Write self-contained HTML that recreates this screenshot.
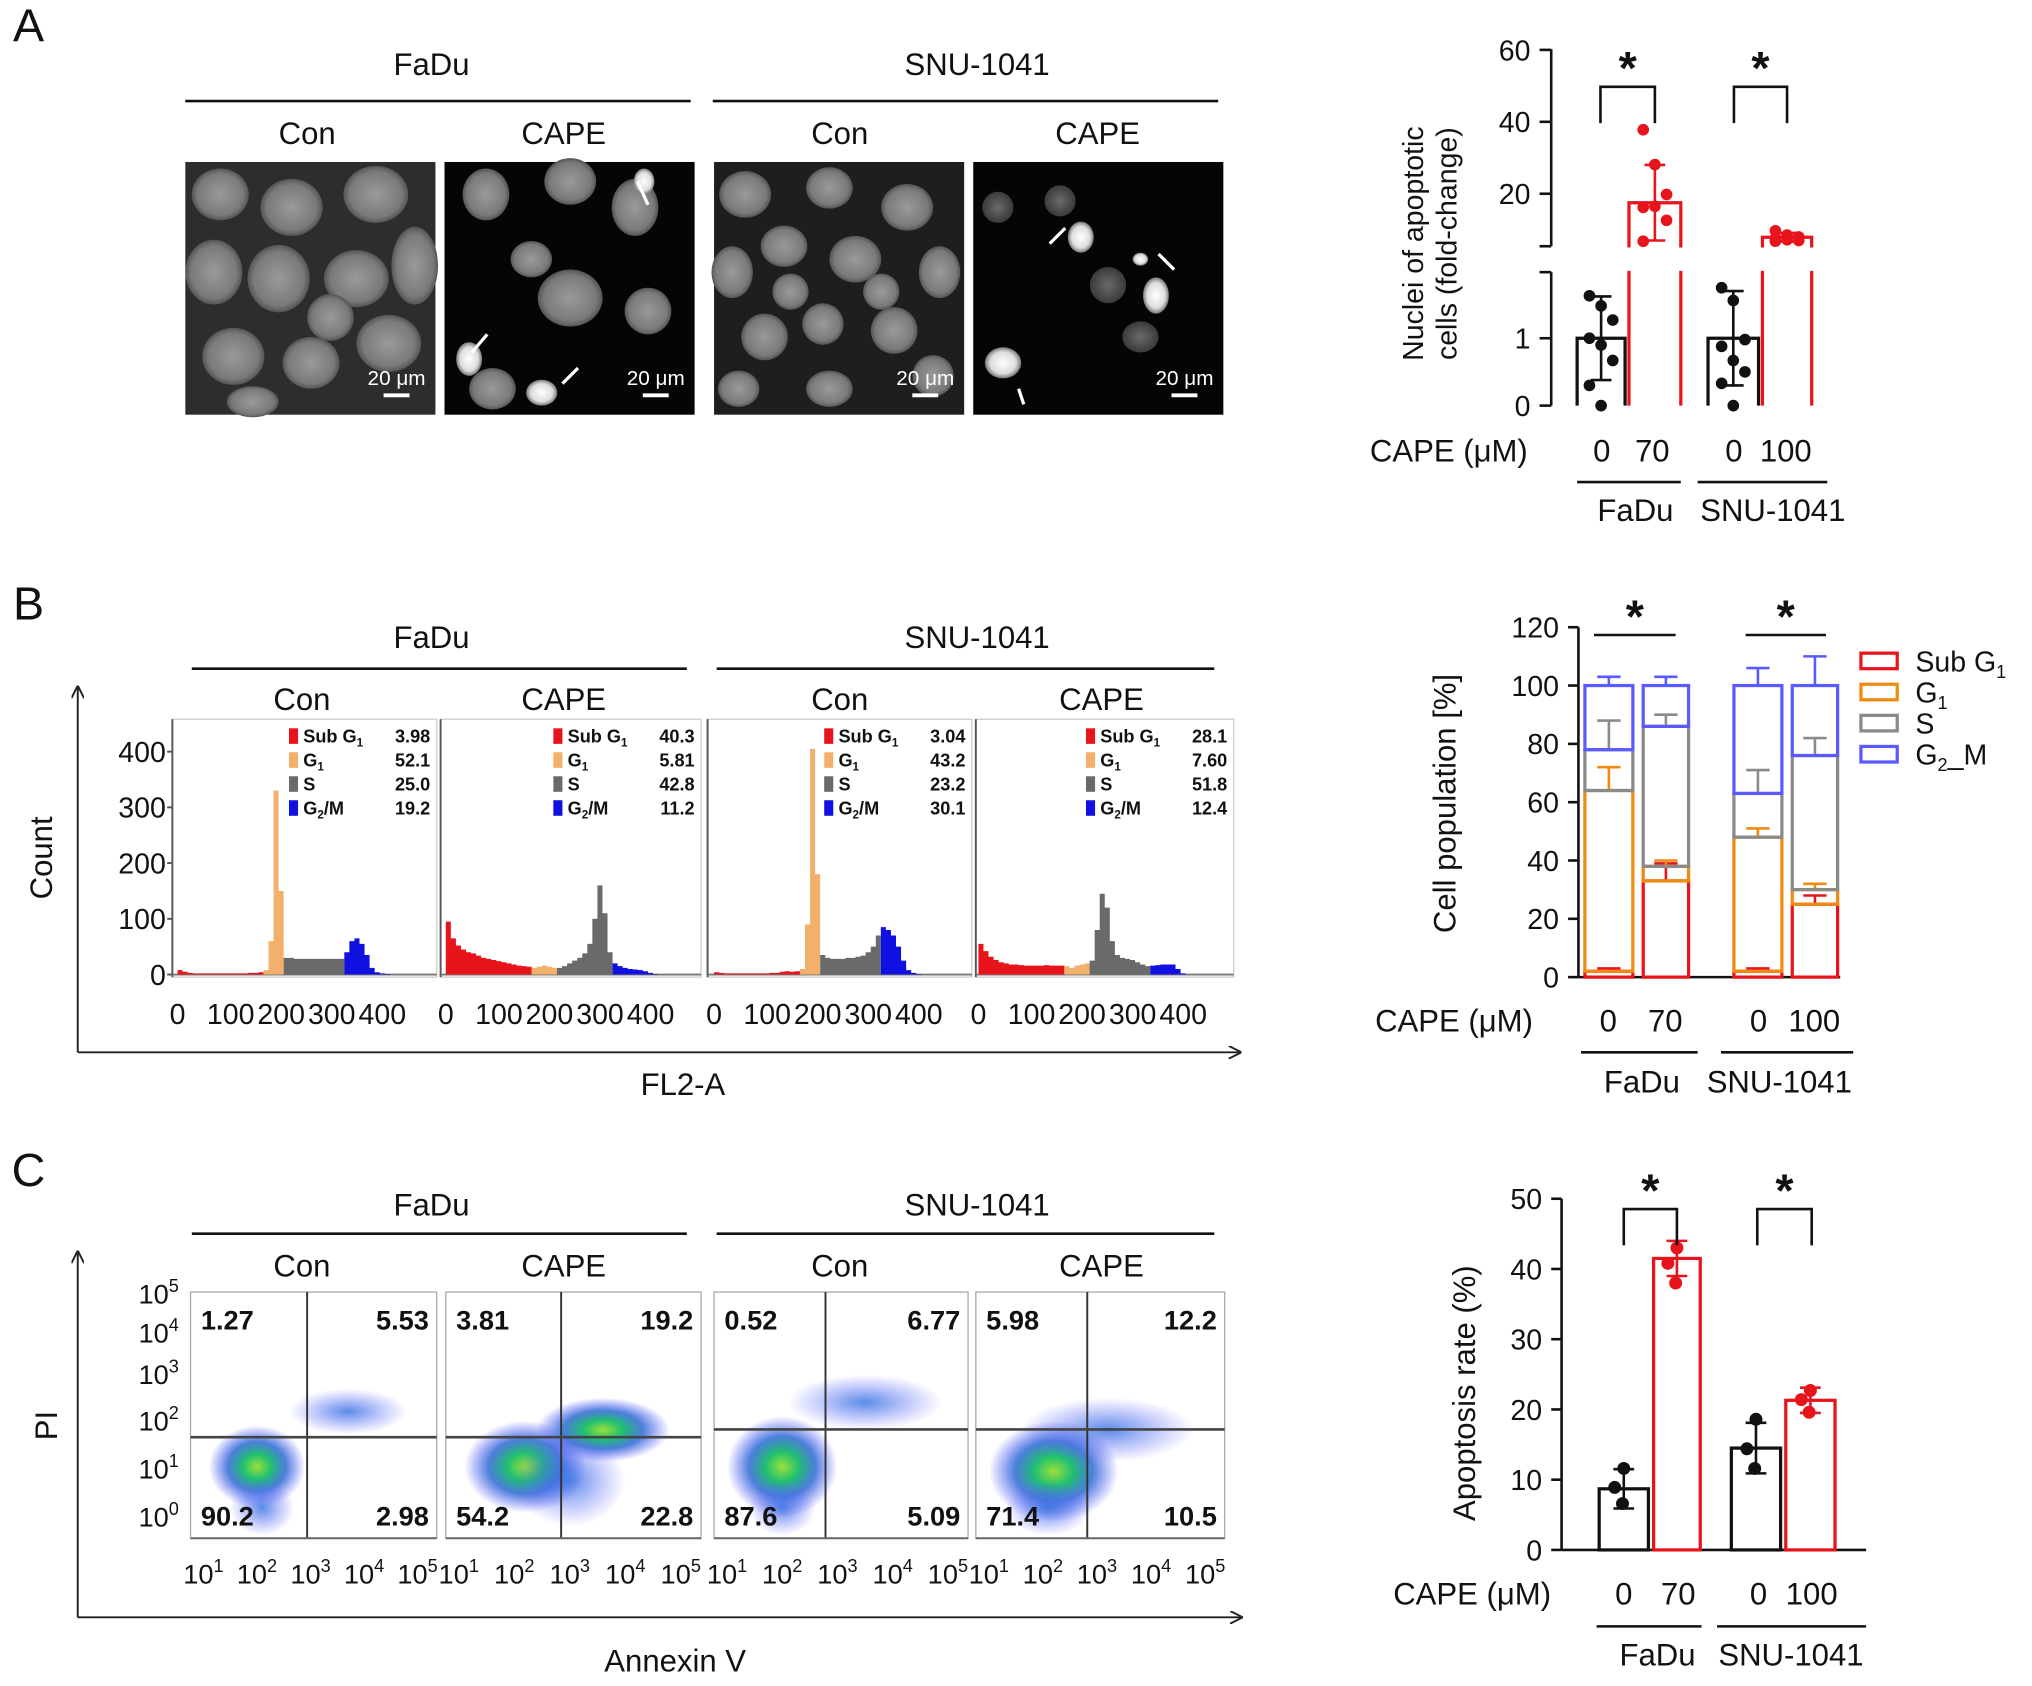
<!DOCTYPE html>
<html><head><meta charset="utf-8"><style>
html,body{margin:0;padding:0;background:#fff;}
svg{display:block;font-family:"Liberation Sans",Arial,sans-serif;}
</style></head><body>
<svg id="fig" xmlns="http://www.w3.org/2000/svg" width="2032" height="1686" viewBox="0 0 1568 1301" preserveAspectRatio="none">
<defs>
<radialGradient id="nuc" cx="50%" cy="50%" r="50%"><stop offset="0" stop-color="#9a9a9a"/><stop offset="0.8" stop-color="#7a7a7a"/><stop offset="1" stop-color="#555"/></radialGradient>
<radialGradient id="nucB" cx="50%" cy="50%" r="50%"><stop offset="0" stop-color="#fff"/><stop offset="0.7" stop-color="#ddd"/><stop offset="1" stop-color="#777"/></radialGradient>
<radialGradient id="nucD" cx="50%" cy="50%" r="50%"><stop offset="0" stop-color="#6a6a6a"/><stop offset="1" stop-color="#3a3a3a"/></radialGradient>
<radialGradient id="cloud" cx="50%" cy="50%" r="50%"><stop offset="0" stop-color="#9be03a"/><stop offset="0.3" stop-color="#20c070"/><stop offset="0.6" stop-color="#2060d0" stop-opacity="0.8"/><stop offset="1" stop-color="#4040ff" stop-opacity="0"/></radialGradient>
<radialGradient id="cloudL" cx="50%" cy="50%" r="50%"><stop offset="0" stop-color="#3070e0" stop-opacity="0.8"/><stop offset="1" stop-color="#6060ff" stop-opacity="0"/></radialGradient>
<marker id="arr" markerWidth="10" markerHeight="10" refX="9" refY="5" orient="auto" markerUnits="userSpaceOnUse"><path d="M0,0 L10,5 L0,10" fill="none" stroke="#222" stroke-width="1.5"/></marker>
</defs>
</svg>
<script>
// ---------- DATA ----------
const aGroups = ['FaDu-0','FaDu-70','SNU-0','SNU-100'];
const aMeans = [1, 17.5, 1, 7.9];
const aSD = [0.62, 10.5, 0.7, 1.2];
const aPoints = [[1.63,1.48,1.27,1.0,0.9,0.67,0.3,0],[37.8,28.1,19.8,16.2,16.5,12.6,6.8],[1.75,1.56,0.98,0.88,0.67,0.5,0.33,0],[9.7,8.5,8.0,7.6,7.2,7.0,6.8]];
const aTicksUpper = [20,40,60];
const aTicksLower = [0,1];
const bGroups = ['FaDu-0','FaDu-70','SNU-0','SNU-100'];
const bSub = [2,33,2,25];
const bG1 = [62,5,46,5];
const bS = [14,48,15,46];
const bG2 = [22,14,37,24];
const bErrSub = [1,6,1,3];
const bErrG1 = [8,2,3,2];
const bErrS = [10,4,8,6];
const bErrG2 = [3,3,6,10];
const bTicks = [0,20,40,60,80,100,120];
const cGroups = ['FaDu-0','FaDu-70','SNU-0','SNU-100'];
const cMeans = [8.7,41.5,14.5,21.3];
const cSD = [2.8,2.5,3.6,1.8];
const cPoints = [[11.6,8.9,6.6],[43,40.8,38],[18.6,14.4,11.6],[22.7,21.4,19.6]];
const cTicks = [0,10,20,30,40,50];
const hSub = ['3.98','40.3','3.04','28.1'];
const hG1 = ['52.1','5.81','43.2','7.60'];
const hS = ['25.0','42.8','23.2','51.8'];
const hG2 = ['19.2','11.2','30.1','12.4'];
const hist0 = [8,5,3,2,2,2,2,2,2,2,2,2,2,2,3,3,4,8,60,330,150,30,30,28,28,28,28,28,28,28,28,28,28,40,60,65,55,35,12,4,2,1,0,0,0];
const hist1 = [95,65,52,45,40,38,34,30,28,26,24,22,20,18,16,15,14,12,14,16,14,12,12,15,20,25,30,38,55,100,160,110,40,20,15,12,10,9,8,6,3,1,0,0,0];
const hist2 = [4,3,2,2,2,2,2,2,2,2,2,3,3,5,6,5,6,10,90,405,180,35,30,28,28,28,30,30,32,34,40,50,70,85,80,70,50,25,8,3,1,0,0,0,0];
const hist3 = [55,42,32,26,22,20,18,18,17,16,16,16,16,17,16,16,16,15,12,16,18,20,25,80,145,120,60,35,30,28,26,22,18,15,16,17,18,18,18,10,2,0,0,0,0];
const hB1 = [17,17,17,17];
const hB2 = [21,22,21,22];
const hB3 = [33,33,33,34];
const qUL = ['1.27','3.81','0.52','5.98'];
const qUR = ['5.53','19.2','6.77','12.2'];
const qLL = ['90.2','54.2','87.6','71.4'];
const qLR = ['2.98','22.8','5.09','10.5'];
const clouds = [
 [[2.0,1.5,0.9,0.9,1],[3.7,2.7,1.1,0.5,0],[2.1,0.6,0.6,0.6,0]],
 [[2.2,1.5,1.1,1.0,1],[3.6,2.3,1.2,0.7,1],[3.0,1.2,1.0,1.0,0]],
 [[2.0,1.5,1.0,1.1,1],[3.5,2.9,1.4,0.6,0],[2.0,0.6,0.6,0.6,0]],
 [[2.2,1.4,1.2,1.1,1],[3.2,2.3,1.6,0.7,0],[2.1,0.6,0.8,0.6,0]]
];

// ---------- HELPERS ----------
const NS='http://www.w3.org/2000/svg';
const svg=document.getElementById('fig');
function mk(tag,attrs,parent){const e=document.createElementNS(NS,tag);for(const k in attrs)e.setAttribute(k,attrs[k]);(parent||svg).appendChild(e);return e;}
function txt(x,y,s,size,anchor,weight,parent){const e=mk('text',{x:x,y:y,'font-size':size||22,'text-anchor':anchor||'middle','font-weight':weight||'normal',fill:'#111'},parent);e.textContent=s;return e;}
function line(x1,y1,x2,y2,w,c,parent){return mk('line',{x1:x1,y1:y1,x2:x2,y2:y2,stroke:c||'#111','stroke-width':w||2},parent);}
let e;

// ---------- PANEL LETTERS & HEADERS ----------
[['A',22,32],['B',22,478],['C',22,915]].forEach(p=>{e=txt(p[1],p[2],p[0],36,'middle');

});
const headerY=[[58,78,103],[500,516,540],[938,952,977]];
headerY.forEach((h,i)=>{
 e=txt(333,h[0],'FaDu',24);
 
 
 e=txt(754,h[0],'SNU-1041',24);
 
 
 e=line(i==0?143:148,h[1],i==0?533:530,h[1],2);
 
 
 e=line(i==0?550:553,h[1],i==0?940:937,h[1],2);
 
 
 [[i==0?237:233,'Con'],[435,'CAPE'],[648,'Con'],[i==0?847:850,'CAPE']].forEach(c=>{
  e=txt(c[0],h[2]+8,c[1],24);
  
  
 });
});

// ---------- PANEL A IMAGES ----------
const imgX=[143,343,551,751];
const nucleiCon1=[[170,150,22,20],[225,160,24,22],[290,150,25,22],[320,205,18,30],[165,210,22,25],[215,215,24,26],[275,215,25,22],[180,275,24,22],[240,280,22,20],[300,265,25,22],[195,310,20,12],[255,245,18,18]];
const nucleiCape1=[[375,150,18,20],[440,140,20,18],[490,160,18,22],[440,230,25,22],[410,200,16,14],[500,240,18,18],[380,300,18,16]];
const brightCape1=[[362,277,10,13],[418,303,12,10],[497,140,8,10]];
const nucleiCon2=[[575,150,20,18],[640,145,18,16],[700,160,20,18],[565,210,16,20],[605,190,18,16],[660,200,20,18],[725,210,16,20],[590,260,18,18],[635,250,16,16],[690,255,18,18],[570,300,16,14],[640,300,18,14],[720,290,16,16],[610,225,14,14],[680,225,14,14]];
const nucleiCape2=[[818,155,12,12],[855,220,14,14],[880,260,14,12],[770,160,12,12]];
const brightCape2=[[834,183,10,12],[892,228,10,14],[774,280,14,12],[880,200,6,5]];
imgX.forEach((x,i)=>{
 const g=mk('g',{});
 
 
 mk('rect',{x:x,y:125,width:193,height:195,fill:(i==0?'#2d2d2d':(i==2?'#1e1e1e':'#050505'))},g);
 const sets=[[nucleiCon1],[nucleiCape1,brightCape1],[nucleiCon2],[nucleiCape2,brightCape2]][i];
 sets[0].forEach(n=>mk('ellipse',{cx:n[0],cy:n[1],rx:n[2],ry:n[3],fill:(i==3?'url(#nucD)':'url(#nuc)')},g));
 if(sets[1]) sets[1].forEach(n=>mk('ellipse',{cx:n[0],cy:n[1],rx:n[2],ry:n[3],fill:'url(#nucB)'},g));
 const t=txt(x+163,297,'20 μm',16,'middle','normal',g); t.setAttribute('fill','#fff');
 mk('line',{x1:x+153,y1:305,x2:x+173,y2:305,stroke:'#fff','stroke-width':3},g);
});
[[376,258,364,272],[446,284,434,296],[492,140,500,158],[822,176,810,188],[894,196,906,208],[786,300,790,312]].forEach(a=>{
 e=mk('line',{x1:a[0],y1:a[1],x2:a[2],y2:a[3],stroke:'#fff','stroke-width':2.5});
 
 
});

// ---------- PANEL A CHART ----------
function yA(v){return v<=2?313-52*v:205-2.775*v;}
const aBarX=[1217,1257,1318,1360], aBarW=[37,40,39,38];
const aColor=['#111','#e8141c','#111','#e8141c'];
e=line(1197,38,1197,190,2);


e=line(1197,210,1197,313,2);


line(1188,190,1197,190,2);line(1188,210,1197,210,2);
aTicksUpper.forEach(v=>{line(1188,yA(v),1197,yA(v),2);
 e=txt(1181,yA(v)+8,String(v),22,'end');
 
 });
aTicksLower.forEach(v=>{line(1188,yA(v),1197,yA(v),2);
 e=txt(1181,yA(v)+8,String(v),22,'end');
 
 });
e=mk('text',{x:0,y:0,'font-size':22,'text-anchor':'middle',fill:'#111',transform:'translate(1098,188) rotate(-90)'});


e.innerHTML='<tspan x="0" dy="0">Nuclei of apoptotic</tspan><tspan x="0" dy="26">cells (fold-change)</tspan>';
aGroups.forEach((g,i)=>{
 const x=aBarX[i],w=aBarW[i],c=aColor[i],cx=x+w/2;
 const top=yA(aMeans[i]);
 e=mk('path',{d:'M'+x+',313 L'+x+','+top+' L'+(x+w)+','+top+' L'+(x+w)+',313',fill:'none',stroke:c,'stroke-width':2.5});
 
 
 if(aMeans[i]>2){mk('rect',{x:x-3,y:191,width:w+6,height:18,fill:'#fff'});}
 const y1=yA(aMeans[i]+aSD[i]),y2=yA(Math.max(0,aMeans[i]-aSD[i]));
 line(cx,y1,cx,y2,2,c);line(cx-8,y1,cx+8,y1,2,c);line(cx-8,y2,cx+8,y2,2,c);
 aPoints[i].forEach((v,j)=>{e=mk('circle',{cx:cx+((j%3)-1)*9,cy:yA(v),r:4.5,fill:c});
  
  });
});
[[1235,1277,67],[1338,1379,67]].forEach(s=>{
 e=mk('path',{d:'M'+s[0]+','+(s[2]+28)+' L'+s[0]+','+s[2]+' L'+s[1]+','+s[2]+' L'+s[1]+','+(s[2]+28),fill:'none',stroke:'#111','stroke-width':2});
 
 
 e=txt((s[0]+s[1])/2,s[2]-2,'*',36,'middle','bold');
 
 
});
function xLabels(y,capeX,items,lines,names){
 e=txt(capeX,y,'CAPE (μM)',24);
 
 
 items.forEach(it=>{e=txt(it[0],y,it[1],24);
  
  });
 lines.forEach(l=>{e=line(l[0],l[2],l[1],l[2],2);
  
  });
 names.forEach(n=>{e=txt(n[0],n[1],n[2],24);
  
  });
}
xLabels(356,1118,[[1236,'0'],[1275,'70'],[1338,'0'],[1378,'100']],[[1217,1297,372],[1310,1410,372]],[[1262,402,'FaDu'],[1368,402,'SNU-1041']]);

// ---------- PANEL B HISTOGRAMS ----------
const hX0=[137,344,551,755], hFrameX=[133,340,546,753], hFrameW=[204,201,204,199];
const hists=[hist0,hist1,hist2,hist3];
const phaseColors=['#e8141c','#f3b06a','#6a6a6a','#1010e0'];
e=mk('line',{x1:60,y1:812,x2:60,y2:530,stroke:'#222','stroke-width':1.5,'marker-end':'url(#arr)'});


e=mk('line',{x1:60,y1:812,x2:957,y2:812,stroke:'#222','stroke-width':1.5,'marker-end':'url(#arr)'});


e=mk('text',{x:0,y:0,'font-size':24,'text-anchor':'middle',fill:'#111',transform:'translate(40,662) rotate(-90)'});


e.textContent='Count';
e=txt(527,845,'FL2-A',24);


[0,100,200,300,400].forEach(v=>{const y=752-v*0.43;
 e=txt(128,y+8,String(v),22,'end');
 
 
 line(129,y,133,y,1.5,'#555');});
hists.forEach((h,p)=>{
 const g=mk('g',{});
 
 
 mk('rect',{x:hFrameX[p],y:555,width:hFrameW[p],height:199,fill:'none',stroke:'#ccc','stroke-width':1},g);
 line(hFrameX[p],555,hFrameX[p],754,1.5,'#555',g);
 line(hFrameX[p],752,hFrameX[p]+hFrameW[p],752,1.5,'#777',g);
 const bounds=[0,hB1[p],hB2[p],hB3[p],h.length];
 for(let ph=0;ph<4;ph++){
  let d='M'+(hX0[p]+bounds[ph]*10*0.39)+',752';
  for(let b=bounds[ph];b<bounds[ph+1];b++){
   const xa=hX0[p]+b*10*0.39, xb=xa+3.9, y=752-h[b]*0.43;
   d+=' L'+xa+','+y+' L'+xb+','+y;
  }
  d+=' L'+(hX0[p]+bounds[ph+1]*10*0.39)+',752 Z';
  const pe=mk('path',{d:d,fill:phaseColors[ph]},g);
  
  
 }
 [0,100,200,300,400].forEach(v=>{
  const t=txt(hX0[p]+v*0.39+(v?2:0),790,String(v),22,'middle','normal',g);
  
  
 });
 const lx=hFrameX[p]+hFrameW[p];
 const labels=[['Sub G',hSub[p],'1'],['G',hG1[p],'1'],['S',hS[p],''],['G',hG2[p],'2']];
 labels.forEach((l,k)=>{
  const y=573+k*18.5;
  mk('rect',{x:lx-114,y:y-11,width:7,height:12,fill:phaseColors[k]},g);
  const t=mk('text',{x:lx-103,y:y,'font-size':14,'font-weight':'bold',fill:'#111'},g);
  t.innerHTML=l[0]+(l[2]?'<tspan font-size="9" dy="3">'+l[2]+'</tspan>':'')+(k==3?'<tspan dy="-3">/M</tspan>':'');
  
  
  const v=txt(lx-5,y,l[1],14,'end','bold',g);
  
  
 });
});

// ---------- PANEL B CHART ----------
function yB(v){return 754-2.25*v;}
const bBarX=[1223,1268,1338,1383], bBarW=[37,35,37,35];
const segCols=['#e8141c','#f08a10','#8a8a8a','#5a5aff'];
e=line(1218,484,1218,754,2);


e=line(1218,754,1420,754,2);


bTicks.forEach(v=>{line(1210,yB(v),1218,yB(v),2);
 e=txt(1203,yB(v)+8,String(v),22,'end');
 
 });
e=mk('text',{x:0,y:0,'font-size':24,'text-anchor':'middle',fill:'#111',transform:'translate(1123,620) rotate(-90)'});


e.textContent='Cell population [%]';
bGroups.forEach((g,i)=>{
 const vals=[bSub[i],bG1[i],bS[i],bG2[i]], errs=[bErrSub[i],bErrG1[i],bErrS[i],bErrG2[i]];
 let base=0; const x=bBarX[i], w=bBarW[i], cx=x+w/2;
 vals.forEach((v,k)=>{
  const r=mk('rect',{x:x,y:yB(base+v),width:w,height:v*2.25,fill:'none',stroke:segCols[k],'stroke-width':2.5});
  
  
  const top=base+v, ye=yB(top+errs[k]);
  line(cx,yB(top),cx,ye,2,segCols[k]);line(cx-9,ye,cx+9,ye,2,segCols[k]);
  base+=v;
 });
});
[[1230,1293,490],[1347,1409,490]].forEach(s=>{
 e=line(s[0],s[2],s[1],s[2],2);
 
 
 e=txt((s[0]+s[1])/2,s[2]-2,'*',36,'middle','bold');
 
 
});
const legNames=[['Sub G','1'],['G','1'],['S',''],['G','2','_M']];
legNames.forEach((l,k)=>{
 const y=510+k*24;
 e=mk('rect',{x:1436,y:y-6,width:28,height:12,fill:'none',stroke:segCols[k],'stroke-width':2.5});
 
 
 e=mk('text',{x:1478,y:y+8,'font-size':22,fill:'#111'});
 e.innerHTML=l[0]+(l[1]?'<tspan font-size="14" dy="5">'+l[1]+'</tspan>':'')+(l[2]?'<tspan dy="-5">'+l[2]+'</tspan>':'');
 
 
});
xLabels(796,1122,[[1241,'0'],[1285,'70'],[1357,'0'],[1400,'100']],[[1220,1310,812],[1328,1430,812]],[[1267,843,'FaDu'],[1373,843,'SNU-1041']]);

// ---------- PANEL C FLOW PLOTS ----------
const fX=[147,344,551,753], fW=[190,197,196,192];
const fVX=[237,433,637,839], fHY=[1109,1109,1103,1103];
e=mk('line',{x1:60,y1:1248,x2:60,y2:966,stroke:'#222','stroke-width':1.5,'marker-end':'url(#arr)'});


e=mk('line',{x1:60,y1:1248,x2:958,y2:1248,stroke:'#222','stroke-width':1.5,'marker-end':'url(#arr)'});


e=mk('text',{x:0,y:0,'font-size':24,'text-anchor':'middle',fill:'#111',transform:'translate(44,1100) rotate(-90)'});


e.textContent='PI';
e=txt(521,1290,'Annexin V',24);


[5,4,3,2,1,0].forEach((p,k)=>{
 const y=[1006,1036,1068,1104,1141,1178][k];
 e=mk('text',{x:138,y:y,'font-size':21,'text-anchor':'end',fill:'#111'});
 e.innerHTML='10<tspan font-size="14" dy="-9">'+p+'</tspan>';
 
 
});
clouds.forEach((cl,p)=>{
 const g=mk('g',{});
 
 
 const x0=fX[p], w=fW[p];
 const lx=v=>x0+10+(v-1)*w/4.6, ly=v=>1185-v*35.5;
 mk('rect',{x:x0,y:997,width:w,height:190,fill:'#fff',stroke:'#aaa','stroke-width':1},g);
 cl.forEach(c=>{
  const ce=mk('ellipse',{cx:lx(c[0]),cy:ly(c[1]),rx:c[2]*w/4.6,ry:c[3]*35.5,fill:c[4]?'url(#cloud)':'url(#cloudL)'},g);
  
  
 });
 line(fVX[p],997,fVX[p],1187,1.5,'#333',g);
 line(x0,fHY[p],x0+w,fHY[p],2,'#444',g);
 line(x0,1187,x0+w,1187,1.5,'#666',g);
 [[x0+8,1026,qUL[p],'start'],[x0+w-6,1026,qUR[p],'end'],[x0+8,1177,qLL[p],'start'],[x0+w-6,1177,qLR[p],'end']].forEach(q=>{
  const t=txt(q[0],q[1],q[2],21,q[3],'bold',g);
  
  
 });
 [1,2,3,4,5].forEach(d=>{
  const t=mk('text',{x:x0+13+(d-1)*w/4.6-3,y:1222,'font-size':21,'text-anchor':'middle',fill:'#111'},g);
  t.innerHTML='10<tspan font-size="14" dy="-9">'+d+'</tspan>';
  
  
 });
});

// ---------- PANEL C CHART ----------
function yC(v){return 1196-5.42*v;}
const cBarX=[1234,1276,1336,1378], cBarW=[38,36,38,38];
const cColor=['#111','#e8141c','#111','#e8141c'];
e=line(1205,925,1205,1196,2);


e=line(1205,1196,1440,1196,2);


cTicks.forEach(v=>{line(1197,yC(v),1205,yC(v),2);
 e=txt(1190,yC(v)+8,String(v),22,'end');
 
 });
e=mk('text',{x:0,y:0,'font-size':24,'text-anchor':'middle',fill:'#111',transform:'translate(1138,1075) rotate(-90)'});


e.textContent='Apoptosis rate (%)';
cGroups.forEach((g,i)=>{
 const x=cBarX[i],w=cBarW[i],c=cColor[i],cx=x+w/2;
 e=mk('rect',{x:x,y:yC(cMeans[i]),width:w,height:cMeans[i]*5.42,fill:'none',stroke:c,'stroke-width':2.5});
 
 
 const y1=yC(cMeans[i]+cSD[i]),y2=yC(cMeans[i]-cSD[i]);
 line(cx,y1,cx,y2,2,c);line(cx-8,y1,cx+8,y1,2,c);line(cx-8,y2,cx+8,y2,2,c);
 cPoints[i].forEach((v,j)=>{e=mk('circle',{cx:cx+[0,-7,-1][j],cy:yC(v),r:5,fill:c});
  
  });
});
[[1253,1294,933],[1356,1398,933]].forEach(s=>{
 e=mk('path',{d:'M'+s[0]+','+(s[2]+28)+' L'+s[0]+','+s[2]+' L'+s[1]+','+s[2]+' L'+s[1]+','+(s[2]+28),fill:'none',stroke:'#111','stroke-width':2});
 
 
 e=txt((s[0]+s[1])/2,s[2]-2,'*',36,'middle','bold');
 
 
});
xLabels(1238,1136,[[1253,'0'],[1295,'70'],[1357,'0'],[1398,'100']],[[1232,1313,1255],[1325,1440,1255]],[[1279,1285,'FaDu'],[1382,1285,'SNU-1041']]);
</script>
</body></html>
